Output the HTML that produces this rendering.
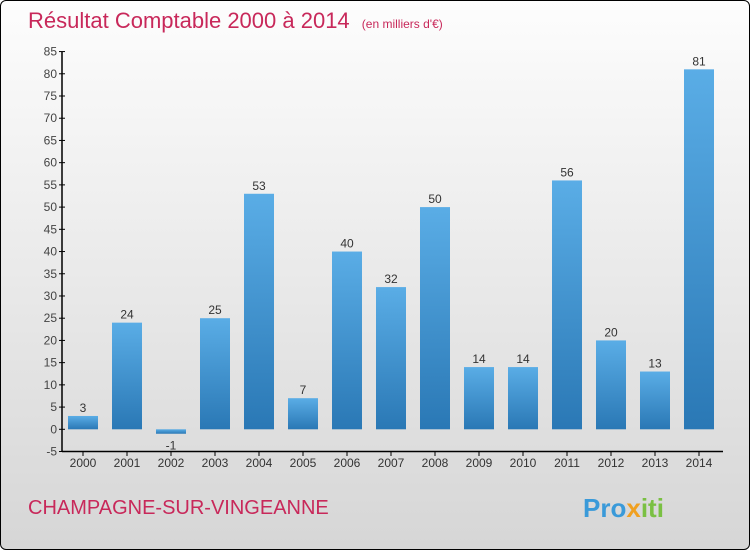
<!DOCTYPE html>
<html><head><meta charset="utf-8"><style>
body{margin:0;width:750px;height:550px;overflow:hidden;font-family:"Liberation Sans",sans-serif}
#wrap{position:absolute;left:0;top:0;width:748px;height:548px;border:1px solid #000;border-radius:6px;background:linear-gradient(#fdfdfd,#d6d6d6)}
</style></head><body>
<div id="wrap">
<svg id="chart" width="750" height="550">
<defs><linearGradient id="g" x1="0" y1="0" x2="0" y2="1"><stop offset="0" stop-color="#5aade6"/><stop offset="1" stop-color="#2a78b5"/></linearGradient></defs>
<text x="27" y="27" font-size="22" fill="#c8285a">Résultat Comptable 2000 à 2014 <tspan font-size="12" dx="6">(en milliers d'€)</tspan></text>
<text x="27" y="513" font-size="20" fill="#c8285a">CHAMPAGNE-SUR-VINGEANNE</text>
<text x="582" y="516" font-size="26" font-weight="bold" fill="#3a9ad9">Pro<tspan fill="#f0a020">x</tspan><tspan fill="#7ac043">iti</tspan></text>
</svg></div>
<script>
const years=["2000","2001","2002","2003","2004","2005","2006","2007","2008","2009","2010","2011","2012","2013","2014"];
const values=[3,24,-1,25,53,7,40,32,50,14,14,56,20,13,81];
const ticks=[-5,0,5,10,15,20,25,30,35,40,45,50,55,60,65,70,75,80,85];
const NS="http://www.w3.org/2000/svg",svg=document.getElementById('chart');
const x0=61,y=v=>428.3-(v*4.444),cx=i=>82+i*44;
function el(t,a,txt){const e=document.createElementNS(NS,t);for(const k in a)e.setAttribute(k,a[k]);if(txt!=null)e.textContent=txt;svg.appendChild(e);return e;}
const ax=el('line',{x1:x0,y1:y(85),x2:x0,y2:450.5,stroke:'#000','stroke-width':1.5});


const bx=el('line',{x1:x0,y1:450.5,x2:722,y2:450.5,stroke:'#000','stroke-width':1.5});


ticks.forEach(t=>{
 el('line',{x1:x0-3,y1:y(t),x2:x0+3,y2:y(t),stroke:'#000'});
 const l=el('text',{x:x0-5,y:y(t)+4,'font-size':12,fill:'#444','text-anchor':'end'},String(t));
 
 
});
years.forEach((yr,i)=>{
 const v=values[i],top=Math.min(y(v),y(0)),h=Math.max(Math.abs(y(v)-y(0)),1);
 const r=el('rect',{x:cx(i)-15,y:top,width:30,height:h,fill:'url(#g)'});
 
 
 const lv=el('text',{x:cx(i),y:v>=0?y(v)-4:y(v)+16,'font-size':12,fill:'#333','text-anchor':'middle'},String(v));
 
 
 el('line',{x1:cx(i),y1:450.5,x2:cx(i),y2:455,stroke:'#000'});
 const xl=el('text',{x:cx(i),y:466,'font-size':12,fill:'#333','text-anchor':'middle'},yr);
 
 
});
</script>
</body></html>
